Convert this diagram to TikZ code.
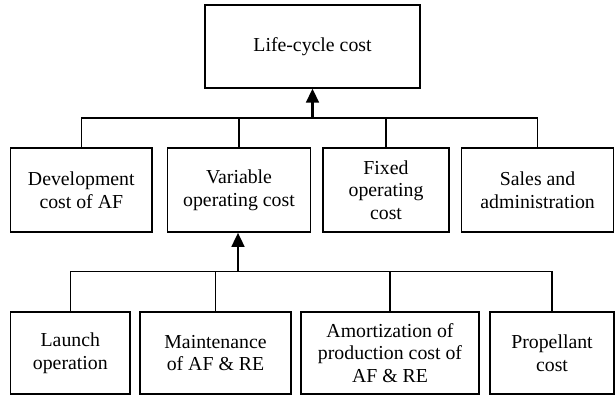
\documentclass[tikz,border=0pt]{standalone}
\usepackage{fontspec}
\setmainfont{Liberation Serif}
\usetikzlibrary{arrows.meta}
\begin{document}
\begin{tikzpicture}[x=1pt,y=-1pt,
  costbox/.style={draw,line width=1.6pt,align=center,inner sep=0pt,
    font=\fontsize{19.8}{22.6}\selectfont},
  link/.style={line width=1.6pt},
  uparrow/.style={line width=2.4pt,-{Triangle[width=12.7pt,length=14pt]}}]
\useasboundingbox (0,0) rectangle (615,396);
% top
\node[costbox,minimum width=215pt,minimum height=83pt] (lcc) at (312.5,46.3) {Life-cycle cost};
% row 2
\node[costbox,minimum width=141.5pt,minimum height=84pt] (dev) at (81.3,190) {Development\\cost of AF};
\node[costbox,minimum width=143pt,minimum height=84pt] (var) at (239,190) {Variable\\operating cost};
\node[costbox,minimum width=126pt,minimum height=84pt] (fix) at (386,190) {Fixed\\operating\\cost};
\node[costbox,minimum width=152pt,minimum height=84pt] (sal) at (537.6,190) {Sales and\\administration};
% row 3
\node[costbox,minimum width=119.4pt,minimum height=82pt] (lau) at (70.3,353) {Launch\\operation};
\node[costbox,minimum width=151pt,minimum height=82pt] (mai) at (215.5,353) {Maintenance\\of AF \& RE};
\node[costbox,minimum width=178pt,minimum height=82pt] (amo) at (390,353) {Amortization of\\production cost of\\AF \& RE};
\node[costbox,minimum width=124pt,minimum height=82pt] (pro) at (552,353) {Propellant\\cost};
% bus 1
\coordinate (b1) at (312.5,118);
\draw[link] (dev.north) |- (b1) -| (sal.north);
\draw[link] (var.north) -- (var.north |- b1);
\draw[link] (fix.north) -- (fix.north |- b1);
\draw[uparrow] (b1) -- (lcc.south);
% bus 2
\coordinate (b2) at (238,271.5);
\draw[link] (lau.north) |- (b2) -| (pro.north);
\draw[link] (mai.north) -- (mai.north |- b2);
\draw[link] (amo.north) -- (amo.north |- b2);
\draw[uparrow] (b2) -- (b2 |- var.south);
\end{tikzpicture}
\end{document}
